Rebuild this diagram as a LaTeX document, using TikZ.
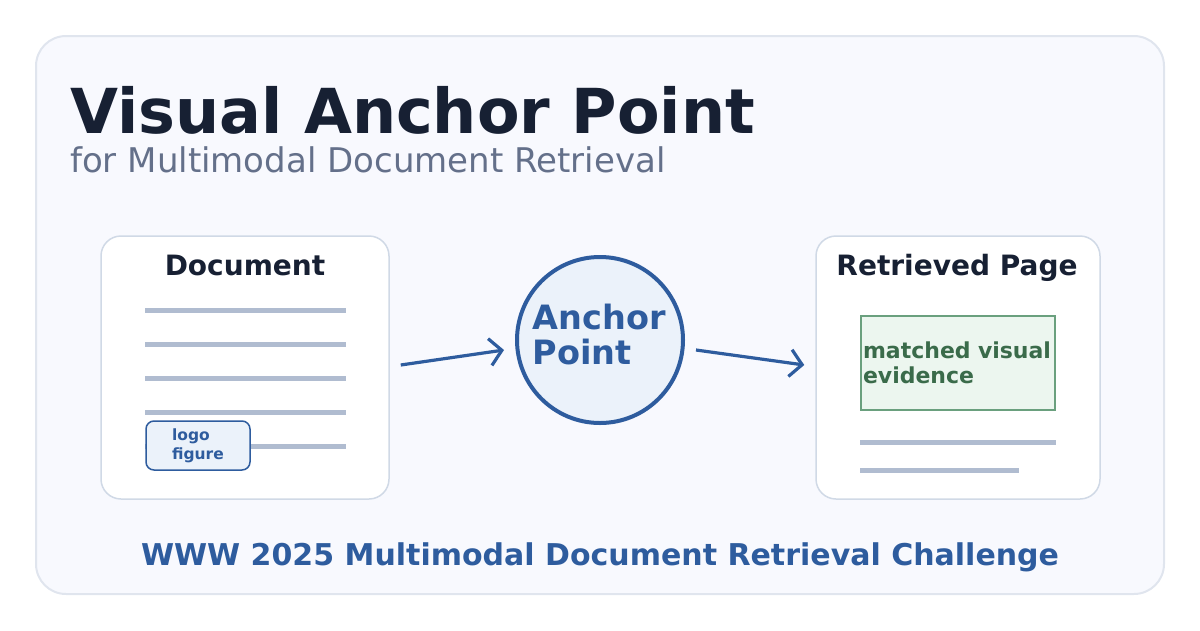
\documentclass[tikz,border=0pt]{standalone}
\usepackage{fontspec}
\setmainfont{DejaVu Sans}
\usepackage{tikz}
\usetikzlibrary{arrows.meta, positioning}
\definecolor{ink}{HTML}{172033}
\definecolor{muted}{HTML}{64708A}
\definecolor{accent}{HTML}{2E5C9E}
\definecolor{accentbg}{HTML}{EBF2FA}
\definecolor{cardbg}{HTML}{F8F9FE}
\definecolor{cardline}{HTML}{E0E5EE}
\definecolor{boxline}{HTML}{D0D9E6}
\definecolor{textline}{HTML}{B0BCD0}
\definecolor{evline}{HTML}{6AA07E}
\definecolor{evbg}{HTML}{ECF6EF}
\definecolor{evtext}{HTML}{3A6B4A}
\tikzstyle{card} = [rectangle, rounded corners=30pt, draw=cardline, line width=2pt, fill=cardbg]
\tikzstyle{page} = [rectangle, rounded corners=20pt, draw=boxline, line width=1.5pt, fill=white, minimum height=263pt]
\tikzstyle{heading} = [font=\fontsize{28}{32}\selectfont\bfseries, text=ink, anchor=base]
\tikzstyle{textrow} = [textline, line width=5pt]
\tikzstyle{arrow} = [accent, line width=3.2pt, -{Straight Barb[length=12pt,width=27pt]}]

\begin{document}
\begin{tikzpicture}[x=1pt, y=-1pt]
    \useasboundingbox (0,0) rectangle (1200,630);
    % Background
    \node (bg) [card, minimum width=1128pt, minimum height=558pt] at (600,315) {};

    % Title
    \node (title) [anchor=base west, inner sep=0pt, text=ink, font=\fontsize{62}{70}\selectfont\bfseries] at (70,133) {Visual Anchor Point};
    \node (subtitle) [anchor=base west, inner sep=0pt, text=muted, font=\fontsize{34}{40}\selectfont] at (70,172) {for Multimodal Document Retrieval};

    % Nodes
    \node (doc) [page, minimum width=288pt] at (245,367.5) {};
    \node (doclabel) [heading, inner sep=0pt] at (245,275) {Document};
    \foreach \y in {310,344,378,412,446}
        \draw [textrow] (145,\y) -- (346,\y);
    \node (logo) [rectangle, rounded corners=8pt, draw=accent, line width=1.5pt, fill=accentbg, minimum width=104pt, minimum height=49pt, align=left, text=accent, font=\fontsize{15.5}{19}\selectfont\bfseries] at (198,445.5) {logo\\figure};

    \node (anchor) [circle, draw=accent, line width=4pt, fill=accentbg, minimum size=166pt] at (600,340) {};
    \node (anchortext) [text width=135pt, align=left, text=accent, font=\fontsize{33.5}{35}\selectfont\bfseries] at ([yshift=5pt]anchor.center) {Anchor\\Point};

    \node (page) [page, minimum width=284pt] at (958,367.5) {};
    \node (pagelabel) [heading, inner sep=0pt] at (957,275) {Retrieved Page};
    \node (evidence) [rectangle, draw=evline, line width=1.5pt, fill=evbg, minimum width=194pt, minimum height=94pt, text width=190pt, inner sep=2pt, align=left, text=evtext, font=\fontsize{22}{25}\selectfont\bfseries] at (958,363) {matched visual\\evidence};
    \draw [textrow] (860,442) -- (1056,442);
    \draw [textrow] (860,470) -- (1019,470);

    % Footer
    \node (footer) [anchor=base, inner sep=0pt, text=accent, font=\fontsize{30}{34}\selectfont\bfseries] at (600,565) {WWW 2025 Multimodal Document Retrieval Challenge};

    % Arrows
    \draw [arrow] ([xshift=11pt,yshift=2.5pt]doc.east) -- ([xshift=-11pt,yshift=-10pt]anchor.west);
    \draw [arrow] ([xshift=11pt,yshift=-10pt]anchor.east) -- ([xshift=-11pt,yshift=2.5pt]page.west);
\end{tikzpicture}
\end{document}
